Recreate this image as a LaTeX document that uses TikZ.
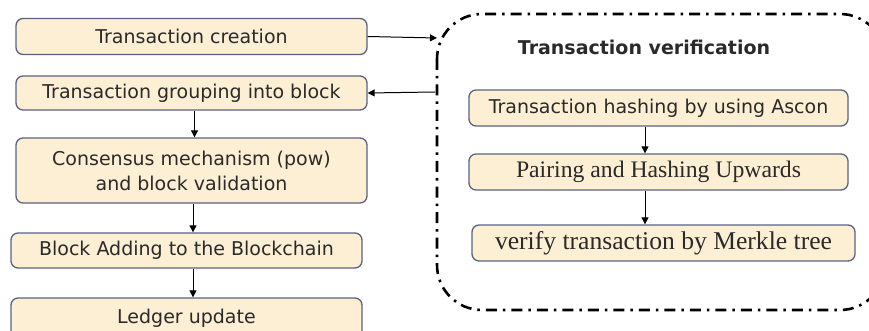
\documentclass[tikz,border=0pt]{standalone}
\usepackage{fontspec}
\setmainfont{DejaVu Sans}
\newfontfamily\serifdoc{Liberation Serif}
\usetikzlibrary{arrows.meta}
\definecolor{boxfill}{HTML}{FCEFD3}
\definecolor{boxline}{HTML}{5A6285}
\definecolor{txt}{HTML}{2A2A2A}
\tikzset{
  stepbox/.style={draw=boxline, fill=boxfill, line width=1.3pt, rounded corners=7pt, inner sep=0pt, align=center, text=txt, font=\fontsize{19}{25}\selectfont},
  arr/.style={-{Triangle[length=7pt,width=7pt]}, line width=1pt, black},
}
\begin{document}
\begin{tikzpicture}[x=1pt,y=-1pt]
\useasboundingbox (0,0) rectangle (869,331);
\clip (0,0) rectangle (869,331);
% left column
\node[stepbox, minimum width=351pt, minimum height=36pt] (c) at (191.5,36.5) {Transaction creation};
\node[stepbox, minimum width=351pt, minimum height=34pt] (g) at (191.5,93) {Transaction grouping into block};
\node[stepbox, minimum width=351pt, minimum height=65pt] (k) at (191.5,170.5) {Consensus mechanism (pow)\\and block validation};
\node[stepbox, minimum width=351pt, minimum height=35pt] (b) at (186.5,250.5) {Block Adding to the Blockchain};
\node[stepbox, minimum width=351pt, minimum height=40pt] (l) at (186.5,318) {Ledger update};
% dashed region
\draw[line width=2.6pt, dash pattern=on 11pt off 6pt on 2.5pt off 6pt, rounded corners=45pt] (437,14) rectangle (885,310);
\coordinate (vin) at (437,38);
\coordinate (vout) at (435,92);
\node[font=\bfseries\fontsize{19}{22}\selectfont, text=txt] (t) at (644,47) {Transaction verification};
\node[stepbox, minimum width=379pt, minimum height=36pt] (h) at (658.5,108) {Transaction hashing by using Ascon};
\node[stepbox, minimum width=379pt, minimum height=36pt, font=\serifdoc\fontsize{23.7}{26}\selectfont] (p) at (658.5,172) {Pairing and Hashing Upwards};
\node[stepbox, minimum width=383pt, minimum height=36pt, font=\serifdoc\fontsize{25.6}{28}\selectfont] (m) at (663.5,243) {verify transaction by Merkle tree};
% connectors
\draw[arr] (c.east) -- (vin);
\draw[arr] (vout) -- (g.east);
\draw[arr] ([xshift=3pt]g.south) -- ([xshift=3pt]k.north);
\draw[arr] ([xshift=1.5pt]k.south) -- ([xshift=6.5pt]b.north);
\draw[arr] ([xshift=6.5pt]b.south) -- ([xshift=6.5pt]l.north);
\draw[arr] ([xshift=-13.5pt]h.south) -- ([xshift=-13.5pt]p.north);
\draw[arr] ([xshift=-13.5pt]p.south) -- ([xshift=-18.5pt]m.north);
\end{tikzpicture}
\end{document}
